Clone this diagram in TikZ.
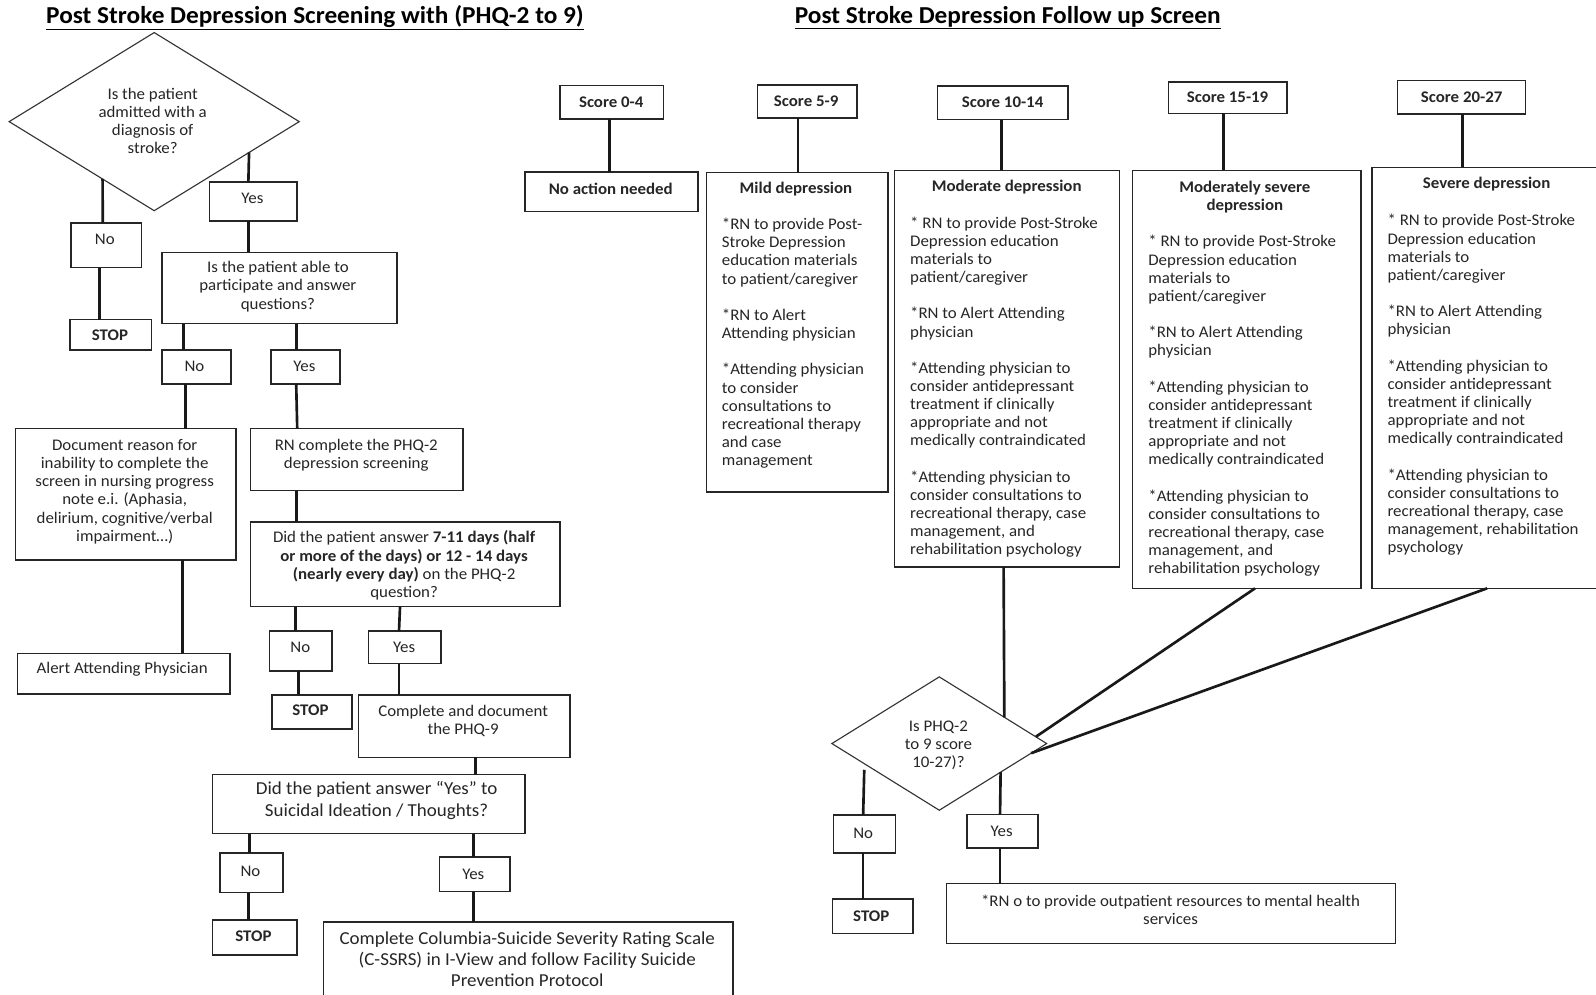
\documentclass[tikz,border=0pt]{standalone}
\usepackage{fontspec}
\setmainfont{Carlito}[FakeStretch=1.04]
\usetikzlibrary{shapes.geometric,fit}
\newcommand\mybox[5]{\node[box, fit={(#2,#3) (#4,#5)}] (#1) {};}
\begin{document}
\begin{tikzpicture}[
  x=1bp, y=-1bp,
  box/.style={draw=black!85, line width=1.5bp, inner sep=0pt, outer sep=0pt, rectangle},
  dia/.style={diamond, draw=black!80, line width=1.1bp, inner sep=0pt, outer sep=0pt},
  conn/.style={line width=2.6bp, black!90},
  txt/.style={font=\fontsize{16}{17.9}\selectfont, text=black!85, inner sep=0pt, align=center},
  ltxt/.style={txt, align=left, anchor=north west},
  btxt/.style={txt, font=\fontsize{16}{17.9}\selectfont\bfseries},
  big/.style={txt, font=\fontsize{18}{21}\selectfont},
  ttl/.style={inner sep=0pt, font=\fontsize{24}{28}\selectfont\bfseries, text=black},
]
\useasboundingbox (0,0) rectangle (1568,977);
\clip (0,0) rectangle (1568,977);
\fill[white] (0,0) rectangle (1568,977);

% ---------- titles ----------
\node[ttl] (title1) at (309.5,17.5) {\underline{Post Stroke Depression Screening with (PHQ-2 to 9)}};
\node[ttl] (title2) at (990,17.5) {\underline{Post Stroke Depression Follow up Screen}};

% ---------- left flowchart ----------
\node[dia, minimum width=285bp, minimum height=175bp] (d1) at (151.5,119.5) {};
\node[txt] (d1t) at (150,119) {Is the patient\\admitted with a\\diagnosis of\\stroke?};

\mybox{no1}{70}{219}{139}{263}
\node[txt] (no1t) at (103,235) {No};
\mybox{stop1}{69}{314}{149}{344}
\node[btxt] (stop1t) at (108,329) {STOP};
\mybox{yes1}{206}{179}{292}{217}
\node[txt] (yes1t) at (248,195) {Yes};
\mybox{q2}{159}{248}{390}{318}
\node[txt] (q2t) at (273,281.5) {Is the patient able to\\participate and answer\\questions?};
\mybox{no2}{159}{344}{227}{377}
\node[txt] (no2t) at (191,360) {No};
\mybox{yes2}{266}{344}{334}{377}
\node[txt] (yes2t) at (299,360) {Yes};
\mybox{doc}{15}{421}{232}{550}
\node[txt] (doct) at (122.5,483) {Document reason for\\inability to complete the\\screen in nursing progress\\note e.i. (Aphasia,\\delirium, cognitive/verbal\\impairment\ldots)};
\mybox{rn}{246}{421}{455}{482}
\node[txt] (rnt) at (350,447.5) {RN complete the PHQ-2\\depression screening};
\mybox{did}{246}{513}{550}{596}
\node[txt] (didt) at (397,555.5) {Did the patient answer \textbf{7-11 days (half}\\\textbf{or more of the days) or 12 - 14 days}\\\textbf{(nearly every day)} on the PHQ-2\\question?};
\mybox{alert}{17}{642}{226}{682}
\node[txt] (alertt) at (120,658) {Alert Attending Physician};
\mybox{no3}{265}{620}{326}{659}
\node[txt] (no3t) at (295,636) {No};
\mybox{yes3}{362}{620}{433}{652}
\node[txt] (yes3t) at (397,636) {Yes};
\mybox{stop2}{267}{683}{346}{716}
\node[btxt] (stop2t) at (305,698) {STOP};
\mybox{comp}{352}{683}{560}{744}
\node[txt] (compt) at (455,708) {Complete and document\\the PHQ-9};
\mybox{did2}{209}{761}{516}{819}
\node[big] (did2t) at (370,786.5) {Did the patient answer “Yes” to\\Suicidal Ideation / Thoughts?};
\mybox{no4}{216}{838}{278}{877}
\node[txt] (no4t) at (246,856) {No};
\mybox{stop3}{209}{904}{292}{938}
\node[btxt] (stop3t) at (249,920) {STOP};
\mybox{yes4}{432}{842}{501}{876}
\node[txt] (yes4t) at (465,859) {Yes};
\mybox{cssrs}{318}{906}{720}{990}
\node[big] (cssrst) at (518,942.5) {Complete Columbia-Suicide Severity Rating Scale\\(C-SSRS) in I-View and follow Facility Suicide\\Prevention Protocol};

% left connectors
\draw[conn] (d1.-132.4) -- (no1.north -| 101,0);
\draw[conn] (no1.south -| 98,0) -- (stop1.north -| 98,0);
\draw[conn] (d1.-18.5) -- (yes1.north -| 244,0);
\draw[conn] (yes1.south -| 244,0) -- (q2.north -| 244,0);
\draw[conn] (q2.south -| 180,0) -- (no2.north -| 180,0);
\draw[conn] (q2.south -| 291,0) -- (yes2.north -| 291,0);
\draw[conn] (no2.south -| 182,0) -- (doc.north -| 182,0);
\draw[conn] (yes2.south -| 291,0) -- (rn.north -| 292,0);
\draw[conn] (rn.south -| 291,0) -- (did.north -| 291,0);
\draw[conn] (doc.south -| 179,0) -- (alert.north -| 179,0);
\draw[conn] (did.south -| 290,0) -- (no3.north -| 290,0);
\draw[conn] (did.south -| 393,0) -- (yes3.north -| 392,0);
\draw[conn] (no3.south -| 293,0) -- (stop2.north -| 293,0);
\draw[conn] (yes3.south -| 392,0) -- (comp.north -| 392,0);
\draw[conn] (comp.south -| 467,0) -- (did2.north -| 467,0);
\draw[conn] (did2.south -| 245,0) -- (no4.north -| 245,0);
\draw[conn] (no4.south -| 244,0) -- (stop3.north -| 244,0);
\draw[conn] (did2.south -| 465,0) -- (yes4.north -| 465,0);
\draw[conn] (yes4.south -| 465,0) -- (cssrs.north -| 465,0);

% ---------- right flowchart ----------
\mybox{s04}{550}{84}{652}{117}
\node[btxt] (s04t) at (600.5,100.5) {Score 0-4};
\mybox{noact}{516}{169}{686}{208}
\node[btxt] (noactt) at (600,185.5) {No action needed};

\mybox{s59}{744}{83.5}{842}{116}
\node[btxt] (s59t) at (792,99) {Score 5-9};
\mybox{mild}{694}{169.5}{872.5}{483.5}
\node[btxt] (mildh) at (782,186) {Mild depression};
\node[ltxt] (mildt) at (709,214) {*RN to provide Post-\\Stroke Depression\\education materials\\to patient/caregiver\\[17.9bp]*RN to Alert\\Attending physician\\[17.9bp]*Attending physician\\to consider\\consultations to\\recreational therapy\\and case\\management};

\mybox{s1014}{921}{84.5}{1049.5}{117.5}
\node[btxt] (s1014t) at (985,100.5) {Score 10-14};
\mybox{mod}{879}{167.5}{1100}{557}
\node[btxt] (modh) at (989,184) {Moderate depression};
\node[ltxt] (modt) at (894,212.5) {* RN to provide Post-Stroke\\Depression education\\materials to\\patient/caregiver\\[17.9bp]*RN to Alert Attending\\physician\\[17.9bp]*Attending physician to\\consider antidepressant\\treatment if clinically\\appropriate and not\\medically contraindicated\\[17.9bp]*Attending physician to\\consider consultations to\\recreational therapy, case\\management, and\\rehabilitation psychology};

\mybox{s1519}{1148}{80.5}{1264.5}{111.5}
\node[btxt] (s1519t) at (1206,96) {Score 15-19};
\mybox{modsev}{1112.5}{167.5}{1337}{578}
\node[btxt] (modsevh) at (1223,193.5) {Moderately severe\\depression};
\node[ltxt] (modsevt) at (1128,231) {* RN to provide Post-Stroke\\Depression education\\materials to\\patient/caregiver\\[17.9bp]*RN to Alert Attending\\physician\\[17.9bp]*Attending physician to\\consider antidepressant\\treatment if clinically\\appropriate and not\\medically contraindicated\\[17.9bp]*Attending physician to\\consider consultations to\\recreational therapy, case\\management, and\\rehabilitation psychology};

\mybox{s2027}{1373}{79}{1498.5}{112}
\node[btxt] (s2027t) at (1436,96) {Score 20-27};
\mybox{sev}{1348}{164.5}{1580}{578}
\node[btxt] (sevh) at (1460.5,181) {Severe depression};
\node[ltxt] (sevt) at (1363,210.5) {* RN to provide Post-Stroke\\Depression education\\materials to\\patient/caregiver\\[17.9bp]*RN to Alert Attending\\physician\\[17.9bp]*Attending physician to\\consider antidepressant\\treatment if clinically\\appropriate and not\\medically contraindicated\\[17.9bp]*Attending physician to\\consider consultations to\\recreational therapy, case\\management, rehabilitation\\psychology};

\node[dia, minimum width=211bp, minimum height=131bp] (d2) at (922.8,730.5) {};
\node[txt] (d2t) at (922,732.5) {Is PHQ-2\\to 9 score\\10-27)?};

\mybox{no5}{819}{800.5}{880}{838}
\node[txt] (no5t) at (848,818.5) {No};
\mybox{stop4}{818}{883}{897}{917}
\node[btxt] (stop4t) at (856,900) {STOP};
\mybox{yes5}{950}{800}{1020}{833}
\node[txt] (yes5t) at (984,816.5) {Yes};
\mybox{rno}{930}{868}{1371}{927}
\node[txt] (rnot) at (1150,894) {*RN o to provide outpatient resources to mental health\\services};

% right connectors
\draw[conn] (s04.south -| 599,0) -- (noact.north -| 599,0);
\draw[conn] (s59.south -| 784,0) -- (mild.north -| 784,0);
\draw[conn] (s1014.south -| 984,0) -- (mod.north -| 984,0);
\draw[conn] (s1519.south -| 1202,0) -- (modsev.north -| 1202,0);
\draw[conn] (s2027.south -| 1437,0) -- (sev.north -| 1437,0);
\draw[conn] (mod.south -| 986,0) -- (d2.22.6);
\draw[conn] (modsev.south -| 1233,0) -- (d2.4.2);
\draw[conn] (sev.south -| 1461,0) -- (d2.-6.8);
\draw[conn] ([yshift=-6bp]d2.-165.8) -- (no5.north -| 848,0);
\draw[conn] (no5.south -| 848,0) -- (stop4.north -| 848,0);
\draw[conn] (d2.-25.8) -- (yes5.north -| 982.5,0);
\draw[conn] (yes5.south -| 982.5,0) -- (rno.north -| 982.5,0);
\end{tikzpicture}
\end{document}
